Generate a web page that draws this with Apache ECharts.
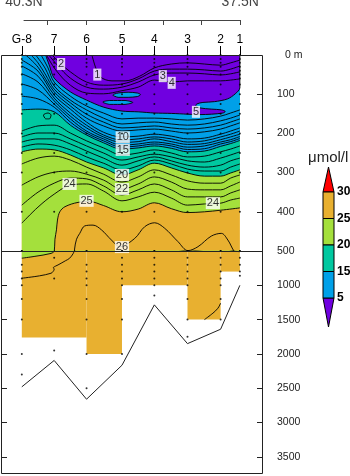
<!DOCTYPE html>
<html>
<head>
<meta charset="utf-8">
<title>Section</title>
<script src="https://cdn.jsdelivr.net/npm/echarts@6.0.0/dist/echarts.min.js"></script>
<style>
html, body { margin: 0; padding: 0; background: #fff; }
#chart { width: 350px; height: 476px; }
</style>
</head>
<body>
<div id="chart"></div>
<script>
const FONT = '"Liberation Sans", Arial, sans-serif';

// ---- stations along the section ----
const stationNames = ['G-8', '7', '6', '5', '4', '3', '2', '1'];
const stationLat = [40.33, 39.91, 39.49, 39.03, 38.61, 38.18, 37.75, 37.50];
const bottomDepth = [2480, 2095, 2660, 2165, 1285, 1850, 1640, 1000];
const sampleDepths = [
  [0, 10, 20, 30, 50, 75, 100, 125, 150, 200, 250, 300, 400, 500, 700, 800, 900, 1000, 1200, 1500, 2000, 2300],
  [0, 10, 20, 30, 50, 75, 100, 125, 150, 200, 250, 300, 400, 600, 900, 1950],
  [0, 10, 20, 30, 50, 75, 100, 125, 150, 200, 250, 300, 400, 500, 700, 800, 900, 1000, 1200, 1500, 2000, 2500],
  [0, 10, 20, 30, 50, 75, 100, 125, 150, 200, 250, 300, 400, 500, 600, 700, 800, 900, 1000, 1200, 1500, 2000],
  [0, 10, 20, 30, 50, 75, 100, 125, 150, 200, 250, 300, 400, 500, 600, 700, 800, 900, 1000, 1150],
  [0, 10, 20, 30, 50, 75, 100, 125, 150, 200, 250, 300, 400, 500, 600, 700, 800, 900, 1000, 1200, 1500, 1750],
  [0, 10, 20, 30, 50, 75, 100, 125, 150, 200, 250, 300, 400, 500, 600, 700, 800, 900, 1000, 1200, 1500],
  [0, 10, 20, 30, 40, 50, 60, 75, 100, 125, 150, 200, 250, 300, 400, 500, 600, 700, 800, 860]
];

// ---- isoline depths (m) at stations and mid-points ----
const sectionLat = [40.33, 40.12, 39.91, 39.70, 39.49, 39.27, 39.03, 38.82, 38.61, 38.39, 38.18, 37.96, 37.75, 37.62, 37.50];
const iso15 = [140, 138, 145, 179, 204, 224, 240, 237, 232, 238, 247, 245, 233, 226, 218];
const iso16 = [194, 181, 179, 199, 219, 237, 255, 250, 242, 250, 260, 258, 247, 240, 232];
const iso17 = [209, 199, 199, 214, 232, 250, 268, 260, 253, 260, 270, 273, 263, 255, 247];
const iso18 = [222, 214, 214, 227, 245, 263, 281, 270, 260, 270, 281, 286, 281, 270, 263];
const iso19 = [235, 227, 230, 242, 260, 276, 293, 283, 268, 278, 291, 296, 296, 286, 278];
const iso20 = [247, 240, 242, 255, 273, 288, 306, 293, 276, 288, 301, 309, 309, 301, 293];
const iso21 = [278, 263, 258, 268, 286, 304, 324, 311, 293, 306, 321, 327, 327, 314, 306];
const iso22 = [332, 311, 299, 296, 304, 319, 342, 329, 311, 324, 342, 344, 344, 334, 324];
const iso23 = [383, 350, 327, 314, 316, 334, 357, 344, 329, 344, 362, 362, 362, 352, 344];
const iso24 = [429, 388, 355, 332, 329, 347, 372, 362, 350, 365, 383, 380, 378, 370, 365];

// ---- isolines given as [lat, depth] pairs ----
const iso1 = [[39.42,0],[39.37,33],[39.31,56],[39.16,66],[38.99,66],[38.80,54],[38.61,33],[38.39,23],[38.18,20],[37.96,23],[37.75,26],[37.62,20],[37.50,13]];
const iso2 = [[39.94,0],[39.82,23],[39.70,43],[39.49,69],[39.27,77],[39.03,74],[38.82,61],[38.61,41],[38.39,36],[38.18,36],[37.96,38],[37.75,41],[37.62,36],[37.50,28]];
const iso3 = [[39.98,0],[39.86,28],[39.70,59],[39.49,82],[39.27,87],[39.03,82],[38.82,69],[38.61,51],[38.39,46],[38.18,46],[37.96,48],[37.75,51],[37.62,48],[37.50,43]];
const iso4 = [[40.01,0],[39.89,38],[39.70,77],[39.49,97],[39.27,99],[39.03,91],[38.82,82],[38.61,64],[38.39,69],[38.18,66],[37.96,66],[37.75,66],[37.62,64],[37.50,61]];
const iso6 = [[40.08,0],[39.99,33],[39.91,69],[39.70,105],[39.49,130],[39.27,148],[39.03,163],[38.82,161],[38.61,161],[38.39,163],[38.18,166],[37.96,163],[37.75,156],[37.62,148],[37.50,140]];
const iso7 = [[40.15,0],[40.03,33],[39.91,79],[39.70,115],[39.49,140],[39.27,161],[39.03,176],[38.82,173],[38.61,171],[38.39,176],[38.18,179],[37.96,176],[37.75,168],[37.62,161],[37.50,153]];
const iso8 = [[40.21,0],[40.12,20],[40.02,51],[39.91,87],[39.70,122],[39.49,151],[39.27,171],[39.03,186],[38.82,184],[38.61,181],[38.39,186],[38.18,189],[37.96,186],[37.75,179],[37.62,171],[37.50,163]];
const iso9 = [[40.28,0],[40.12,31],[39.91,94],[39.70,130],[39.49,161],[39.27,181],[39.03,194],[38.82,191],[38.61,189],[38.39,194],[38.18,199],[37.96,196],[37.75,189],[37.62,181],[37.50,173]];
const iso10 = [[40.33,13],[40.12,41],[39.91,102],[39.70,138],[39.49,171],[39.27,197],[39.03,209],[38.82,207],[38.61,202],[38.39,207],[38.18,214],[37.96,212],[37.75,202],[37.62,194],[37.50,186]];
const iso11 = [[40.33,28],[40.12,54],[39.91,110],[39.70,148],[39.49,179],[39.27,204],[39.03,217],[38.82,214],[38.61,209],[38.39,214],[38.18,222],[37.96,219],[37.75,209],[37.62,202],[37.50,194]];
const iso12 = [[40.33,48],[40.12,69],[39.91,117],[39.70,156],[39.49,186],[39.27,209],[39.03,223],[38.82,221],[38.61,214],[38.39,221],[38.18,228],[37.96,226],[37.75,216],[37.62,209],[37.50,202]];
const iso13 = [[40.33,74],[40.12,89],[39.91,125],[39.70,163],[39.49,194],[39.27,214],[39.03,230],[38.82,227],[38.61,222],[38.39,227],[38.18,235],[37.96,232],[37.75,222],[37.62,216],[37.50,208]];
const iso14 = [[40.33,105],[40.12,112],[39.91,133],[39.70,171],[39.49,199],[39.27,219],[39.03,235],[38.82,232],[38.61,227],[38.39,232],[38.18,241],[37.96,239],[37.75,227],[37.62,221],[37.50,213]];
const iso25 = [[40.33,605],[40.16,578],[39.95,535],[39.91,505],[39.90,470],[39.88,446],[39.867,421],[39.837,400],[39.77,387],[39.60,376],[39.45,374],[39.27,384],[39.03,400],[38.82,393],[38.61,377],[38.39,392],[38.18,402],[37.96,400],[37.75,396],[37.50,390]];
const iso26 = [[40.33,897],[40.10,862],[39.95,824],[39.925,800],[39.91,765],[39.92,742],[39.895,722],[39.86,703],[39.76,640],[39.71,606],[39.665,540],[39.645,495],[39.62,470],[39.578,455],[39.513,436],[39.406,434],[39.297,446],[39.167,472],[39.059,489],[38.865,468],[38.735,438],[38.606,428],[38.476,442],[38.304,476],[38.174,499],[38.044,489],[37.871,462],[37.741,455],[37.656,472],[37.569,502],[37.50,510]];
const iso26Deep = [[37.96,1500],[37.85,1406],[37.785,1334],[37.75,1260]];

// region below 5 µmol/l (outlined by the 5 isoline), lenses and a small closed loop
const iso5Region = [[40.02,0],[38.80,0],[37.50,0],[37.50,84],[37.56,99],[37.66,112],[37.83,119],[37.98,121],[38.06,125],[38.07,130],[38.02,135],[37.87,138],[37.74,140],[37.69,144],[37.72,148],[37.87,151],[38.02,152],[38.18,151],[38.39,149],[38.61,148],[38.82,145],[39.03,143],[39.27,133],[39.49,115],[39.70,94],[39.91,59],[39.97,28]];
const lensA = [[39.15,102],[39.08,97],[38.95,95],[38.83,97],[38.79,101],[38.83,106],[38.95,108],[39.08,108]];
const lensB = [[39.28,120],[39.19,116],[38.99,116],[38.89,121],[38.99,126],[39.19,126]];
const loopD = [[40.05,153],[39.99,148],[39.95,153],[39.97,163],[40.02,163]];

// extent of the gridded field: [latFrom, latTo, topDepth, bottomDepth]
const upperField = [[40.33, 37.50, 0, 500]];
const deepField = [[40.33,39.49,500,1760],[39.49,39.03,500,2000],[39.03,38.18,500,1000],[38.18,37.75,500,1500],[37.75,37.50,500,800]];

// contour labels: [lat, depth, text]
const contourLabels = [[39.82,23,'2'],[39.35,50,'1'],[38.50,54,'3'],[38.385,71,'4'],[38.07,145,'5'],[39.02,210,'10'],[39.02,242,'15'],[39.03,306,'20'],[39.03,342,'22'],[39.71,329,'24'],[39.49,372,'25'],[37.85,378,'24'],[39.03,490,'26']];

// tick labels
const upperDepthTicks = [0, 100, 200, 300, 400, 500];
const lowerDepthTicks = [1000, 1500, 2000, 2500, 3000, 3500];
const latTicks = [37.5, 38.0, 38.5, 39.0, 39.5, 40.0];
const latEnds = [37.5, 40.3];

// colour classes
const bandEdges = [5, 15, 20, 25, 30];
const PURPLE = '#7000e0', BLUE = '#00a0e8', TEAL = '#00c8a0', GREEN = '#a4e03c', ORANGE = '#e8b030', RED = '#ff0000';

const pairs = (lats, vals) => lats.map((v, i) => [v, vals[i]]);

function contour(xi, yi, data, z, fill) {
  const s = {
    type: 'line', xAxisIndex: xi, yAxisIndex: yi, data: data, smooth: 0.35,
    symbol: 'none', silent: true, animation: false, z: z,
    lineStyle: { color: '#000', width: 0.9 }
  };
  if (fill) s.areaStyle = { color: fill, opacity: 1, origin: 'start' };
  return s;
}

function polygons(xi, yi, shapes, fill, z) {
  return {
    type: 'custom', xAxisIndex: xi, yAxisIndex: yi, clip: true, z: z, silent: true, animation: false,
    data: shapes.map(s => s[0]),
    renderItem: (params, api) => {
      const pts = shapes[params.dataIndex].map(p => api.coord(p));
      return {
        type: 'polygon',
        shape: { points: pts, smooth: 0.3, smoothConstraint: [pts[0], pts[0]] },
        style: { fill: fill, stroke: '#000', lineWidth: 0.9 }
      };
    }
  };
}

function blocks(xi, yi, rows, z) {
  return {
    type: 'custom', xAxisIndex: xi, yAxisIndex: yi, clip: true, z: z, silent: true, animation: false,
    data: rows, encode: { x: [0, 1], y: [2, 3] },
    renderItem: (params, api) => {
      const a = api.coord([api.value(0), api.value(2)]);
      const b = api.coord([api.value(1), api.value(3)]);
      return {
        type: 'rect',
        shape: { x: Math.min(a[0], b[0]), y: Math.min(a[1], b[1]), width: Math.abs(b[0] - a[0]), height: Math.abs(b[1] - a[1]) },
        style: { fill: ORANGE }
      };
    }
  };
}

const upperDots = [], lowerDots = [];
stationLat.forEach((lat, i) => sampleDepths[i].forEach(d => {
  if (d <= 500) upperDots.push([lat, d]);
  if (d >= 500) lowerDots.push([lat, d]);
}));

const dotSeries = (xi, yi, data) => ({
  type: 'scatter', xAxisIndex: xi, yAxisIndex: yi, data: data, symbol: 'circle', symbolSize: 2,
  itemStyle: { color: '#000' }, z: 9, silent: true, animation: false
});

const tickStyle = { color: '#222', width: 1 };
const depthLabel = { color: '#222', fontSize: 10.5, fontFamily: FONT };

// colour bar drawn beside the section
const barX = 323, barW = 11, barTop = 192, segH = 26.5;
const barFills = [ORANGE, GREEN, TEAL, BLUE];
const colourBar = [
  { type: 'polygon', shape: { points: [[barX + barW / 2, 167], [barX + barW, barTop], [barX, barTop]] }, style: { fill: RED, stroke: '#000', lineWidth: 1 } },
  { type: 'polygon', shape: { points: [[barX, barTop + 4 * segH], [barX + barW, barTop + 4 * segH], [barX + barW / 2, 327]] }, style: { fill: PURPLE, stroke: '#000', lineWidth: 1 } }
];
barFills.forEach((c, k) => colourBar.push({
  type: 'rect', shape: { x: barX, y: barTop + k * segH, width: barW, height: segH },
  style: { fill: c, stroke: '#000', lineWidth: 1 }
}));
bandEdges.slice().reverse().forEach((v, k) => colourBar.push({
  type: 'text', x: barX + barW + 3, y: barTop + k * segH,
  style: { text: String(v), fill: '#000', font: 'bold 12px ' + FONT, verticalAlign: 'middle', align: 'left' }
}));
colourBar.push({
  type: 'text', x: 308, y: 158,
  style: { text: 'μmol/l', fill: '#222', font: '15px ' + FONT, verticalAlign: 'middle', align: 'left' }
});

const option = {
  animation: false,
  backgroundColor: '#fff',
  grid: [
    { left: 1, top: 55, width: 262, height: 196, outerBoundsMode: 'none', containLabel: false },
    { left: 1, top: 251, width: 262, height: 223, outerBoundsMode: 'none', containLabel: false },
    { left: 24, top: 10, width: 216.3, height: 10, outerBoundsMode: 'none', containLabel: false }
  ],
  xAxis: [
    {
      gridIndex: 0, type: 'value', min: 37.2, max: 40.6, inverse: true, position: 'top',
      axisLine: { show: false }, splitLine: { show: false },
      axisTick: { show: true, inside: false, length: 9, customValues: stationLat, lineStyle: { color: '#000', width: 1 } },
      axisLabel: {
        customValues: stationLat, margin: 9, color: '#000', fontSize: 12, fontFamily: FONT,
        formatter: v => {
          let best = 0;
          stationLat.forEach((s, i) => { if (Math.abs(s - v) < Math.abs(stationLat[best] - v)) best = i; });
          return stationNames[best];
        }
      }
    },
    { gridIndex: 1, type: 'value', min: 37.2, max: 40.6, inverse: true, show: false },
    {
      gridIndex: 2, type: 'value', min: 37.5, max: 40.3, inverse: true, position: 'top',
      axisLine: { show: true, lineStyle: { color: '#444', width: 1 } }, splitLine: { show: false },
      axisTick: { show: true, inside: true, length: 5, customValues: latTicks, lineStyle: { color: '#444', width: 1 } },
      axisLabel: { customValues: latEnds, margin: 1, color: '#444', fontSize: 14, fontFamily: FONT, formatter: v => v.toFixed(1) + 'N' }
    }
  ],
  yAxis: [
    {
      gridIndex: 0, type: 'value', min: 0, max: 500, inverse: true, position: 'left',
      axisLine: { show: false }, splitLine: { show: false }, axisLabel: { show: false },
      axisTick: { show: true, inside: true, length: 6, customValues: [100, 200, 300, 400], lineStyle: tickStyle }
    },
    {
      gridIndex: 0, type: 'value', min: 0, max: 500, inverse: true, position: 'right',
      axisLine: { show: false }, splitLine: { show: false },
      axisTick: { show: true, inside: true, length: 6, customValues: [100, 200, 300, 400], lineStyle: tickStyle },
      axisLabel: Object.assign({ customValues: upperDepthTicks, margin: 14,
        formatter: v => v === 0 ? '{z|0 m}' : String(v),
        rich: { z: { color: '#222', fontSize: 10.5, fontFamily: FONT, padding: [0, 0, 0, 8] } } }, depthLabel)
    },
    {
      gridIndex: 1, type: 'value', min: 500, max: 3750, inverse: true, position: 'left',
      axisLine: { show: false }, splitLine: { show: false }, axisLabel: { show: false },
      axisTick: { show: true, inside: true, length: 6, customValues: lowerDepthTicks, lineStyle: tickStyle }
    },
    {
      gridIndex: 1, type: 'value', min: 500, max: 3750, inverse: true, position: 'right',
      axisLine: { show: false }, splitLine: { show: false },
      axisTick: { show: true, inside: true, length: 6, customValues: lowerDepthTicks, lineStyle: tickStyle },
      axisLabel: Object.assign({ customValues: lowerDepthTicks, margin: 14, formatter: v => String(v) }, depthLabel)
    },
    { gridIndex: 2, type: 'value', show: false }
  ],
  graphic: {
    elements: [
      { type: 'rect', shape: { x: 1.5, y: 55.5, width: 261, height: 418 }, style: { fill: 'none', stroke: '#222', lineWidth: 1 }, z: 100, silent: true },
      { type: 'line', shape: { x1: 1, y1: 251.5, x2: 263, y2: 251.5 }, style: { stroke: '#222', lineWidth: 1 }, z: 100, silent: true },
      { type: 'group', children: colourBar, z: 100, silent: true }
    ]
  },
  series: [
    // upper panel: colour classes painted from the deepest upward
    blocks(0, 0, upperField, 1),
    contour(0, 0, iso25, 2, GREEN),
    contour(0, 0, pairs(sectionLat, iso20), 3, TEAL),
    contour(0, 0, pairs(sectionLat, iso15), 4, BLUE),
    polygons(0, 0, [iso5Region], PURPLE, 5),
    polygons(0, 0, [lensA, lensB], BLUE, 6),
    polygons(0, 0, [loopD], 'none', 7),
    contour(0, 0, iso1, 7), contour(0, 0, iso2, 7), contour(0, 0, iso3, 7), contour(0, 0, iso4, 7),
    contour(0, 0, iso6, 7), contour(0, 0, iso7, 7), contour(0, 0, iso8, 7), contour(0, 0, iso9, 7),
    contour(0, 0, iso10, 7), contour(0, 0, iso11, 7), contour(0, 0, iso12, 7), contour(0, 0, iso13, 7), contour(0, 0, iso14, 7),
    contour(0, 0, pairs(sectionLat, iso16), 7), contour(0, 0, pairs(sectionLat, iso17), 7),
    contour(0, 0, pairs(sectionLat, iso18), 7), contour(0, 0, pairs(sectionLat, iso19), 7),
    contour(0, 0, pairs(sectionLat, iso21), 7), contour(0, 0, pairs(sectionLat, iso22), 7),
    contour(0, 0, pairs(sectionLat, iso23), 7), contour(0, 0, pairs(sectionLat, iso24), 7),
    contour(0, 0, iso26, 7),
    {
      type: 'scatter', xAxisIndex: 0, yAxisIndex: 0, z: 8, symbolSize: 1, silent: true, animation: false,
      itemStyle: { color: 'rgba(0,0,0,0)' },
      data: contourLabels.map(l => ({ value: [l[0], l[1]], name: l[2] })),
      label: { show: true, position: 'inside', formatter: '{b}', color: '#000', fontSize: 11, fontFamily: FONT,
               backgroundColor: '#fff', padding: [1, 1, 0, 1] }
    },
    dotSeries(0, 0, upperDots),
    // lower panel
    blocks(1, 2, deepField, 1),
    contour(1, 2, iso25, 2, GREEN),
    contour(1, 2, iso26, 7),
    contour(1, 2, iso26Deep, 7),
    {
      type: 'line', xAxisIndex: 1, yAxisIndex: 2, data: pairs(stationLat, bottomDepth), symbol: 'none',
      lineStyle: { color: '#222', width: 1 }, z: 7, silent: true, animation: false
    },
    dotSeries(1, 2, lowerDots)
  ]
};

const chart = echarts.init(document.getElementById('chart'), null, { renderer: 'canvas' });
chart.setOption(option);
</script>
</body>
</html>
